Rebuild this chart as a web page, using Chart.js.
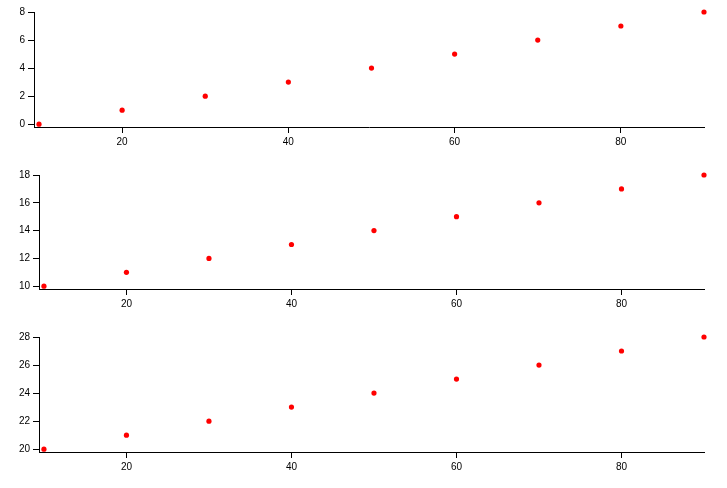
<!DOCTYPE html>
<html>
<head>
<meta charset="utf-8">
<script src="https://cdn.jsdelivr.net/npm/chart.js@4.4.1/dist/chart.umd.min.js"></script>
<style>
  body { margin: 0; background: #fff; }
  canvas { position: absolute; left: 0; }
</style>
</head>
<body>
<canvas id="c1" width="727" height="160" style="top:0"></canvas>
<canvas id="c2" width="727" height="160" style="top:160px"></canvas>
<canvas id="c3" width="727" height="168" style="top:320px"></canvas>
<script>
const xValues = [10, 20, 30, 40, 50, 60, 70, 80, 90];
const series1 = [0, 1, 2, 3, 4, 5, 6, 7, 8];
const series2 = [10, 11, 12, 13, 14, 15, 16, 17, 18];
const series3 = [20, 21, 22, 23, 24, 25, 26, 27, 28];
const xTicks = [20, 40, 60, 80];
const yTicks1 = [0, 2, 4, 6, 8];
const yTicks2 = [10, 12, 14, 16, 18];
const yTicks3 = [20, 22, 24, 26, 28];

const font = { family: "'Liberation Sans', Arial, sans-serif", size: 10 };

function makeChart(id, ys, yTicks, yMin, yMax, top, left, bottom) {
    const canvas = document.getElementById(id);
    const h = canvas.height;
    return new Chart(canvas.getContext("2d"), {
        type: "scatter",
        data: {
            datasets: [{
                data: xValues.map((x, i) => ({ x: x, y: ys[i] })),
                backgroundColor: "#ff0000",
                borderWidth: 0,
                pointRadius: 2.6,
                clip: false
            }]
        },
        options: {
            responsive: false,
            animation: false,
            devicePixelRatio: 1,
            layout: { padding: { top: top, right: 23, left: 0, bottom: 0 } },
            plugins: { legend: { display: false }, tooltip: { enabled: false } },
            scales: {
                x: {
                    type: "linear",
                    min: 9.4,
                    max: 90,
                    afterBuildTicks: (s) => { s.ticks = xTicks.map(v => ({ value: v })); },
                    afterFit: (s) => { s.height = h - bottom; },
                    border: { color: "#000", width: 1 },
                    grid: { drawOnChartArea: false, drawTicks: true, tickLength: 6, color: "#000" },
                    ticks: { font: font, color: "#000", padding: 3, maxRotation: 0 }
                },
                y: {
                    type: "linear",
                    min: yMin,
                    max: yMax,
                    afterBuildTicks: (s) => { s.ticks = yTicks.map(v => ({ value: v })); },
                    afterFit: (s) => { s.width = left; },
                    border: { color: "#000", width: 1 },
                    grid: { drawOnChartArea: false, drawTicks: true, tickLength: 6, color: "#000" },
                    ticks: { font: font, color: "#000", padding: 3 }
                }
            }
        }
    });
}

makeChart("c1", series1, yTicks1, -0.2, 8, 12, 34, 127);
makeChart("c2", series2, yTicks2, 9.8, 18, 15, 39, 129);
makeChart("c3", series3, yTicks3, 19.8, 28, 17, 39, 132);
</script>
</body>
</html>
